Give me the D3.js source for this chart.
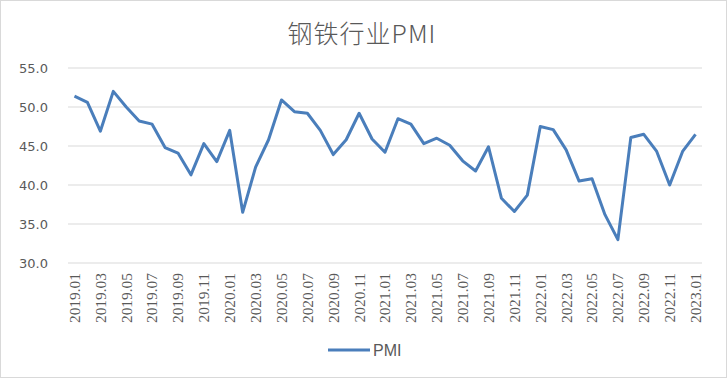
<!DOCTYPE html>
<html>
<head>
<meta charset="utf-8">
<script src="https://cdn.jsdelivr.net/npm/d3@7"></script>
<style>
  body { margin: 0; background: #fff; }
  #chart { width: 727px; height: 378px; }
</style>
</head>
<body>
<div id="chart"></div>
<script>
// monthly steel PMI, 2019.01 - 2023.01
const months = []
for (let y = 2019; y <= 2023; y++) {
    for (let m = 1; m <= 12; m++) {
        if (y === 2023 && m > 1) break
        months.push(`${y}.${String(m).padStart(2, "0")}`)
    }
}
const pmi = [
    51.4, 50.6, 46.9, 52.0, 50.0, 48.2, 47.8, 44.8, 44.1, 41.3, 45.3, 43.0,
    47.0, 36.5, 42.3, 45.8, 50.9, 49.4, 49.2, 47.0, 43.9, 45.8, 49.2, 45.9,
    44.2, 48.5, 47.8, 45.3, 46.0, 45.1, 43.1, 41.8, 44.9, 38.3, 36.6, 38.7,
    47.5, 47.1, 44.5, 40.5, 40.8, 36.2, 33.0, 46.1, 46.5, 44.3, 40.0, 44.3,
    46.5
]
const yTicks = [30, 35, 40, 45, 50, 55]

buildChart()

function buildChart() {
    const W = 727, H = 378
    const m = { left: 68, right: 25, top: 68, bottom: 115 }

    const svg = d3.select("#chart").append("svg")
        .attr("width", W)
        .attr("height", H)

    svg.append("rect")
        .attr("x", 0.5).attr("y", 0.5)
        .attr("width", W - 1).attr("height", H - 1)
        .attr("fill", "#fff")
        .attr("stroke", "#d9d9d9")

    const x = d3.scaleBand()
        .domain(months)
        .range([m.left, W - m.right])
    const y = d3.scaleLinear()
        .domain([30, 55])
        .range([H - m.bottom, m.top])

    // grid
    svg.append("g")
        .selectAll("line")
        .data(yTicks)
        .enter().append("line")
            .attr("x1", m.left).attr("x2", W - m.right)
            .attr("y1", d => y(d)).attr("y2", d => y(d))
            .attr("stroke", "#d9d9d9")
            .attr("stroke-width", 1)

    // y labels
    const yAxis = svg.append("g")
        .attr("transform", `translate(${m.left - 20},0)`)
        .call(d3.axisLeft(y).tickValues(yTicks).tickFormat(d3.format(".1f")).tickSize(0))
    yAxis.select(".domain").remove()
    yAxis.selectAll("text")
        .attr("x", 0)
        .attr("font-family", "DejaVu Sans, sans-serif")
        .attr("font-size", 13)
        .attr("fill", "#595959")

    // x labels, every other month
    const xAxis = svg.append("g")
        .attr("transform", `translate(0,${H - m.bottom})`)
        .call(d3.axisBottom(x).tickValues(months.filter((d, i) => i % 2 === 0)).tickSize(0))
    xAxis.select(".domain").remove()
    xAxis.selectAll("text")
        .attr("font-family", "Liberation Serif, Times New Roman, serif")
        .attr("font-size", 15.4)
        .attr("fill", "#595959")
        .attr("text-anchor", "end")
        .attr("transform", "rotate(-90)")
        .attr("x", -10)
        .attr("y", 0)
        .attr("dy", "0.35em")

    // line
    const line = d3.line()
        .x((d, i) => x(months[i]) + x.bandwidth() / 2)
        .y(d => y(d))
    svg.append("path")
        .datum(pmi)
        .attr("d", line)
        .attr("fill", "none")
        .attr("stroke", "#4a7ebb")
        .attr("stroke-width", 3)
        .attr("stroke-linejoin", "round")

    // title
    svg.append("text")
        .attr("x", 362).attr("y", 43)
        .attr("text-anchor", "middle")
        .attr("font-family", "Noto Sans CJK SC, sans-serif")
        .attr("font-weight", 300)
        .attr("font-size", 25)
        .attr("letter-spacing", 1)
        .attr("fill", "#595959")
        .text("钢铁行业PMI")

    // legend
    const lg = svg.append("g").attr("transform", "translate(328,350)")
    lg.append("line")
        .attr("x1", 0).attr("x2", 42)
        .attr("stroke", "#4a7ebb").attr("stroke-width", 3)
    lg.append("text")
        .attr("x", 45).attr("dy", "0.35em")
        .attr("font-family", "Liberation Sans Narrow, Liberation Sans, sans-serif")
        .attr("font-size", 16)
        .attr("fill", "#595959")
        .text("PMI")
}
</script>
</body>
</html>
